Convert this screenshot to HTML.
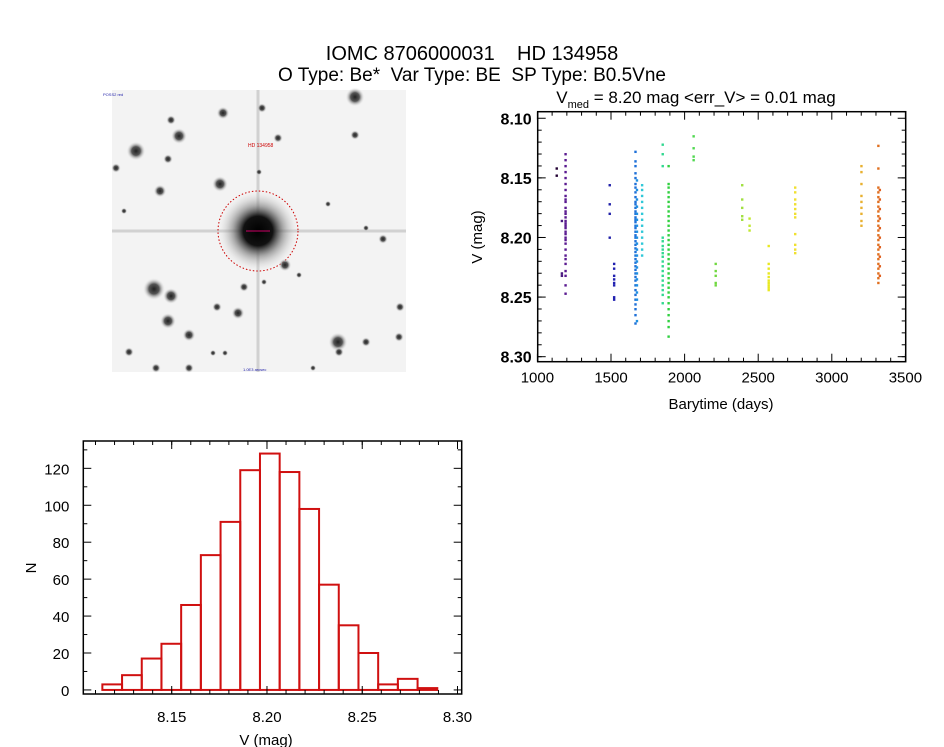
<!DOCTYPE html>
<html><head><meta charset="utf-8"><style>
html,body{margin:0;padding:0;background:#fff;}
svg{display:block;font-family:"Liberation Sans",sans-serif;}
text{white-space:pre;}
</style></head><body>
<svg id="page" width="944" height="747" viewBox="0 0 944 747" xmlns="http://www.w3.org/2000/svg">
<rect width="944" height="747" fill="#fff"/>
<text x="472" y="60" text-anchor="middle" font-size="20" fill="#000" xml:space="preserve">IOMC 8706000031    HD 134958</text>
<text x="472" y="81" text-anchor="middle" font-size="19" fill="#000" xml:space="preserve">O Type: Be*  Var Type: BE  SP Type: B0.5Vne</text>

<g id="img">
  <defs>
    <radialGradient id="sg"><stop offset="0" stop-color="#222"/><stop offset="0.45" stop-color="#555"/><stop offset="1" stop-color="#f2f2f2" stop-opacity="0"/></radialGradient>
    <radialGradient id="bg"><stop offset="0" stop-color="#000"/><stop offset="0.35" stop-color="#111"/><stop offset="0.6" stop-color="#777" stop-opacity="0.6"/><stop offset="1" stop-color="#fff" stop-opacity="0"/></radialGradient>
  </defs>
  <rect x="112" y="90" width="294" height="282" fill="#f3f3f3"/>
  <line x1="112" y1="231" x2="406" y2="231" stroke="#bbb" stroke-width="3" opacity="0.6"/>
  <line x1="258" y1="90" x2="258" y2="372" stroke="#bbb" stroke-width="3" opacity="0.6"/>
  <circle cx="258" cy="231" r="42" fill="url(#bg)"/>
  <circle cx="258" cy="231" r="40" fill="none" stroke="#c00" stroke-width="1" stroke-dasharray="1.5 2"/>
  <line x1="246" y1="231" x2="270" y2="231" stroke="#c06" stroke-width="1"/>
  <text x="248" y="147" font-size="5" fill="#c00">HD 134958</text>
  <text x="103" y="96" font-size="4" fill="#22a">POSS2 red</text>
  <text x="243" y="371" font-size="4" fill="#22a">1.0E3 arcsec</text>
  <g id="stars"></g>
</g>

<g id="lc">
  <text x="696" y="103" text-anchor="middle" font-size="17">V<tspan font-size="11" dy="5">med</tspan><tspan dy="-5"> = 8.20 mag &lt;err_V&gt; = 0.01 mag</tspan></text>
  <g id="lcPts"></g>
  <rect x="537.7" y="111.7" width="368" height="250" fill="none" stroke="#000" stroke-width="1.5"/>
  <g id="lcAx"></g>
  <text x="721" y="409" text-anchor="middle" font-size="15">Barytime (days)</text>
  <text transform="translate(482,237) rotate(-90)" text-anchor="middle" font-size="15">V (mag)</text>
</g>

<g id="hist">
  <g id="hBars"></g>
  <rect x="83.3" y="441" width="378.4" height="253" fill="none" stroke="#000" stroke-width="1.5"/>
  <g id="hAx"></g>
  <text x="266" y="745" text-anchor="middle" font-size="15">V (mag)</text>
  <text transform="translate(36,568) rotate(-90)" text-anchor="middle" font-size="15">N</text>
</g>
</svg>
<script>
const NS="http://www.w3.org/2000/svg";
function mk(tag,attrs,parent){const e=document.createElementNS(NS,tag);for(const k in attrs)e.setAttribute(k,attrs[k]);parent.appendChild(e);return e;}

// star field
const starX=[355,179,136,220,160,262,278,223,355,383,285,154,171,168,189,217,238,338,339,400,399,116,129,171,259,328,124,168,244,264,299,366,366,213,225,156,189,313];
const starY=[97,136,151,184,191,108,138,113,135,239,265,289,296,321,335,307,313,342,352,307,337,168,352,120,172,204,211,159,287,282,275,228,342,353,353,368,368,368];
const starR=[6,5,6,5,4,3,3,4,3,3,4,7,5,5,4,3,4,6,3,3,3,3,3,3,2,2,2,3,3,2,2,2,3,2,2,3,3,2];
const sg=document.getElementById('stars');
for(let i=0;i<starX.length;i++){
  const c=mk('circle',{cx:starX[i],cy:starY[i],r:starR[i]*1.6,fill:'url(#sg)'},sg);
  
  
}

// light curve data
const clusterTimes=[1130,1165,1190,1490,1520,1665,1675,1710,1850,1890,2060,2210,2390,2440,2570,2750,3200,3315,3325];
const clusterColors=['#220033','#4a1a80','#5a1a90','#2020a8','#2020b0','#1e70d8','#2090e0','#30c8d8','#30d890','#30d040','#50d850','#70d840','#a0e040','#c0e830','#e8e820','#f0e030','#e8b030','#e07020','#e06020'];
const clusterMags=[
 [8.142,8.148],
 [8.186,8.23,8.232],
 [8.13,8.135,8.14,8.145,8.15,8.155,8.16,8.165,8.168,8.17,8.175,8.178,8.18,8.183,8.186,8.188,8.19,8.192,8.195,8.197,8.2,8.202,8.205,8.21,8.215,8.218,8.222,8.228,8.232,8.24,8.247],
 [8.156,8.172,8.18,8.2],
 [8.222,8.226,8.232,8.235,8.238,8.24,8.25,8.252],
 [8.128,8.136,8.14,8.146,8.15,8.155,8.158,8.162,8.166,8.17,8.172,8.175,8.178,8.18,8.183,8.185,8.187,8.19,8.192,8.195,8.198,8.2,8.203,8.206,8.209,8.212,8.215,8.218,8.221,8.224,8.227,8.23,8.233,8.236,8.24,8.244,8.248,8.252,8.256,8.26,8.265,8.272],
 [8.152,8.16,8.168,8.174,8.18,8.185,8.19,8.195,8.2,8.205,8.21,8.215,8.22,8.225,8.23,8.235,8.24,8.246,8.252,8.27],
 [8.156,8.16,8.165,8.17,8.175,8.18,8.185,8.19,8.195,8.2,8.205,8.21,8.215],
 [8.122,8.13,8.14,8.2,8.203,8.207,8.21,8.213,8.216,8.22,8.224,8.228,8.232,8.236,8.24,8.244,8.248,8.255],
 [8.14,8.155,8.158,8.162,8.166,8.17,8.174,8.178,8.182,8.186,8.19,8.194,8.198,8.202,8.206,8.21,8.214,8.218,8.222,8.226,8.23,8.234,8.238,8.242,8.246,8.25,8.255,8.26,8.265,8.27,8.275,8.283],
 [8.115,8.125,8.132,8.135],
 [8.222,8.228,8.232,8.238,8.24],
 [8.156,8.168,8.175,8.182,8.185],
 [8.184,8.19,8.194],
 [8.207,8.222,8.226,8.23,8.233,8.236,8.238,8.24,8.242,8.244],
 [8.158,8.162,8.168,8.172,8.176,8.18,8.183,8.197,8.206,8.21,8.213],
 [8.14,8.145,8.155,8.165,8.17,8.175,8.18,8.186,8.19],
 [8.123,8.142,8.158,8.162,8.166,8.17,8.174,8.178,8.182,8.186,8.19,8.194,8.198,8.202,8.206,8.21,8.214,8.218,8.222,8.226,8.23,8.234,8.238],
 [8.16,8.168,8.176,8.184,8.192,8.2,8.208,8.216,8.224,8.232]
];
const lcXTicks=[1000,1500,2000,2500,3000,3500];
const lcYTicks=[8.10,8.15,8.20,8.25,8.30];

const LX0=537.7,LX1=905.7,LY0=111.7,LY1=361.7;
const tMin=1002,tMax=3502,mTop=8.0945,mBot=8.3042;
const lx=t=>LX0+(t-tMin)/(tMax-tMin)*(LX1-LX0);
const ly=m=>LY0+(m-mTop)/(mBot-mTop)*(LY1-LY0);
const lp=document.getElementById('lcPts');
clusterTimes.forEach((t,i)=>{
  clusterMags[i].forEach(m=>{
    const r=mk('rect',{x:lx(t)-1,y:ly(m)-1,width:2.4,height:2.4,fill:clusterColors[i]},lp);
    
    
  });
});
const la=document.getElementById('lcAx');
lcXTicks.forEach(v=>{
  const x=lx(v);
  mk('line',{x1:x,y1:LY1,x2:x,y2:LY1-8,stroke:'#000'},la);
  mk('line',{x1:x,y1:LY0,x2:x,y2:LY0+8,stroke:'#000'},la);
  const t=mk('text',{x:x,y:LY1+21,'text-anchor':'middle','font-size':15},la);t.textContent=v;
  
  
});
for(let v=1100;v<3500;v+=100){if(v%500==0)continue;const x=lx(v);mk('line',{x1:x,y1:LY1,x2:x,y2:LY1-4,stroke:'#000'},la);mk('line',{x1:x,y1:LY0,x2:x,y2:LY0+4,stroke:'#000'},la);}
lcYTicks.forEach(v=>{
  const y=ly(v);
  mk('line',{x1:LX0,y1:y,x2:LX0+8,y2:y,stroke:'#000'},la);
  mk('line',{x1:LX1,y1:y,x2:LX1-8,y2:y,stroke:'#000'},la);
  const t=mk('text',{x:LX0-6,y:y+6,'text-anchor':'end','font-size':16,'font-weight':'bold'},la);t.textContent=v.toFixed(2);
  
  
});
for(let v=8.11;v<8.30;v+=0.01){const y=ly(v);mk('line',{x1:LX0,y1:y,x2:LX0+4,y2:y,stroke:'#000'},la);mk('line',{x1:LX1,y1:y,x2:LX1-4,y2:y,stroke:'#000'},la);}

// histogram data
const binStart=8.1136, binWidth=0.01034;
const binCounts=[3,8,17,25,46,73,91,119,128,118,98,57,35,20,3,6,1];
const hXTicks=[8.15,8.20,8.25,8.30];
const hYTicks=[0,20,40,60,80,100,120];
const HX0=83.3,HX1=461.7,HY0=441,HY1=694;
const vMin=8.1036,vMax=8.3022,nTop=134.8,nBot=-2.2;
const hx=v=>HX0+(v-vMin)/(vMax-vMin)*(HX1-HX0);
const hy=n=>HY1-(n-nBot)/(nTop-nBot)*(HY1-HY0);
const hb=document.getElementById('hBars');
binCounts.forEach((n,i)=>{
  const a=hx(binStart+i*binWidth),b=hx(binStart+(i+1)*binWidth);
  const r=mk('rect',{x:a,y:hy(n),width:b-a,height:hy(0)-hy(n),fill:'none',stroke:'#d01010','stroke-width':2},hb);
  
  
});
const ha=document.getElementById('hAx');
hXTicks.forEach(v=>{
  const x=hx(v);
  mk('line',{x1:x,y1:HY1,x2:x,y2:HY1-8,stroke:'#000'},ha);
  mk('line',{x1:x,y1:HY0,x2:x,y2:HY0+8,stroke:'#000'},ha);
  const t=mk('text',{x:x,y:HY1+28,'text-anchor':'middle','font-size':15},ha);t.textContent=v.toFixed(2);
  
  
});
for(let v=8.11;v<8.30;v+=0.01){const x=hx(v);mk('line',{x1:x,y1:HY1,x2:x,y2:HY1-4,stroke:'#000'},ha);mk('line',{x1:x,y1:HY0,x2:x,y2:HY0+4,stroke:'#000'},ha);}
hYTicks.forEach(v=>{
  const y=hy(v);
  mk('line',{x1:HX0,y1:y,x2:HX0+8,y2:y,stroke:'#000'},ha);
  mk('line',{x1:HX1,y1:y,x2:HX1-8,y2:y,stroke:'#000'},ha);
  const t=mk('text',{x:HX0-14,y:y+6,'text-anchor':'end','font-size':15},ha);t.textContent=v;
  
  
});
for(let v=10;v<135;v+=20){const y=hy(v);mk('line',{x1:HX0,y1:y,x2:HX0+4,y2:y,stroke:'#000'},ha);mk('line',{x1:HX1,y1:y,x2:HX1-4,y2:y,stroke:'#000'},ha);}
</script>
</body></html>
